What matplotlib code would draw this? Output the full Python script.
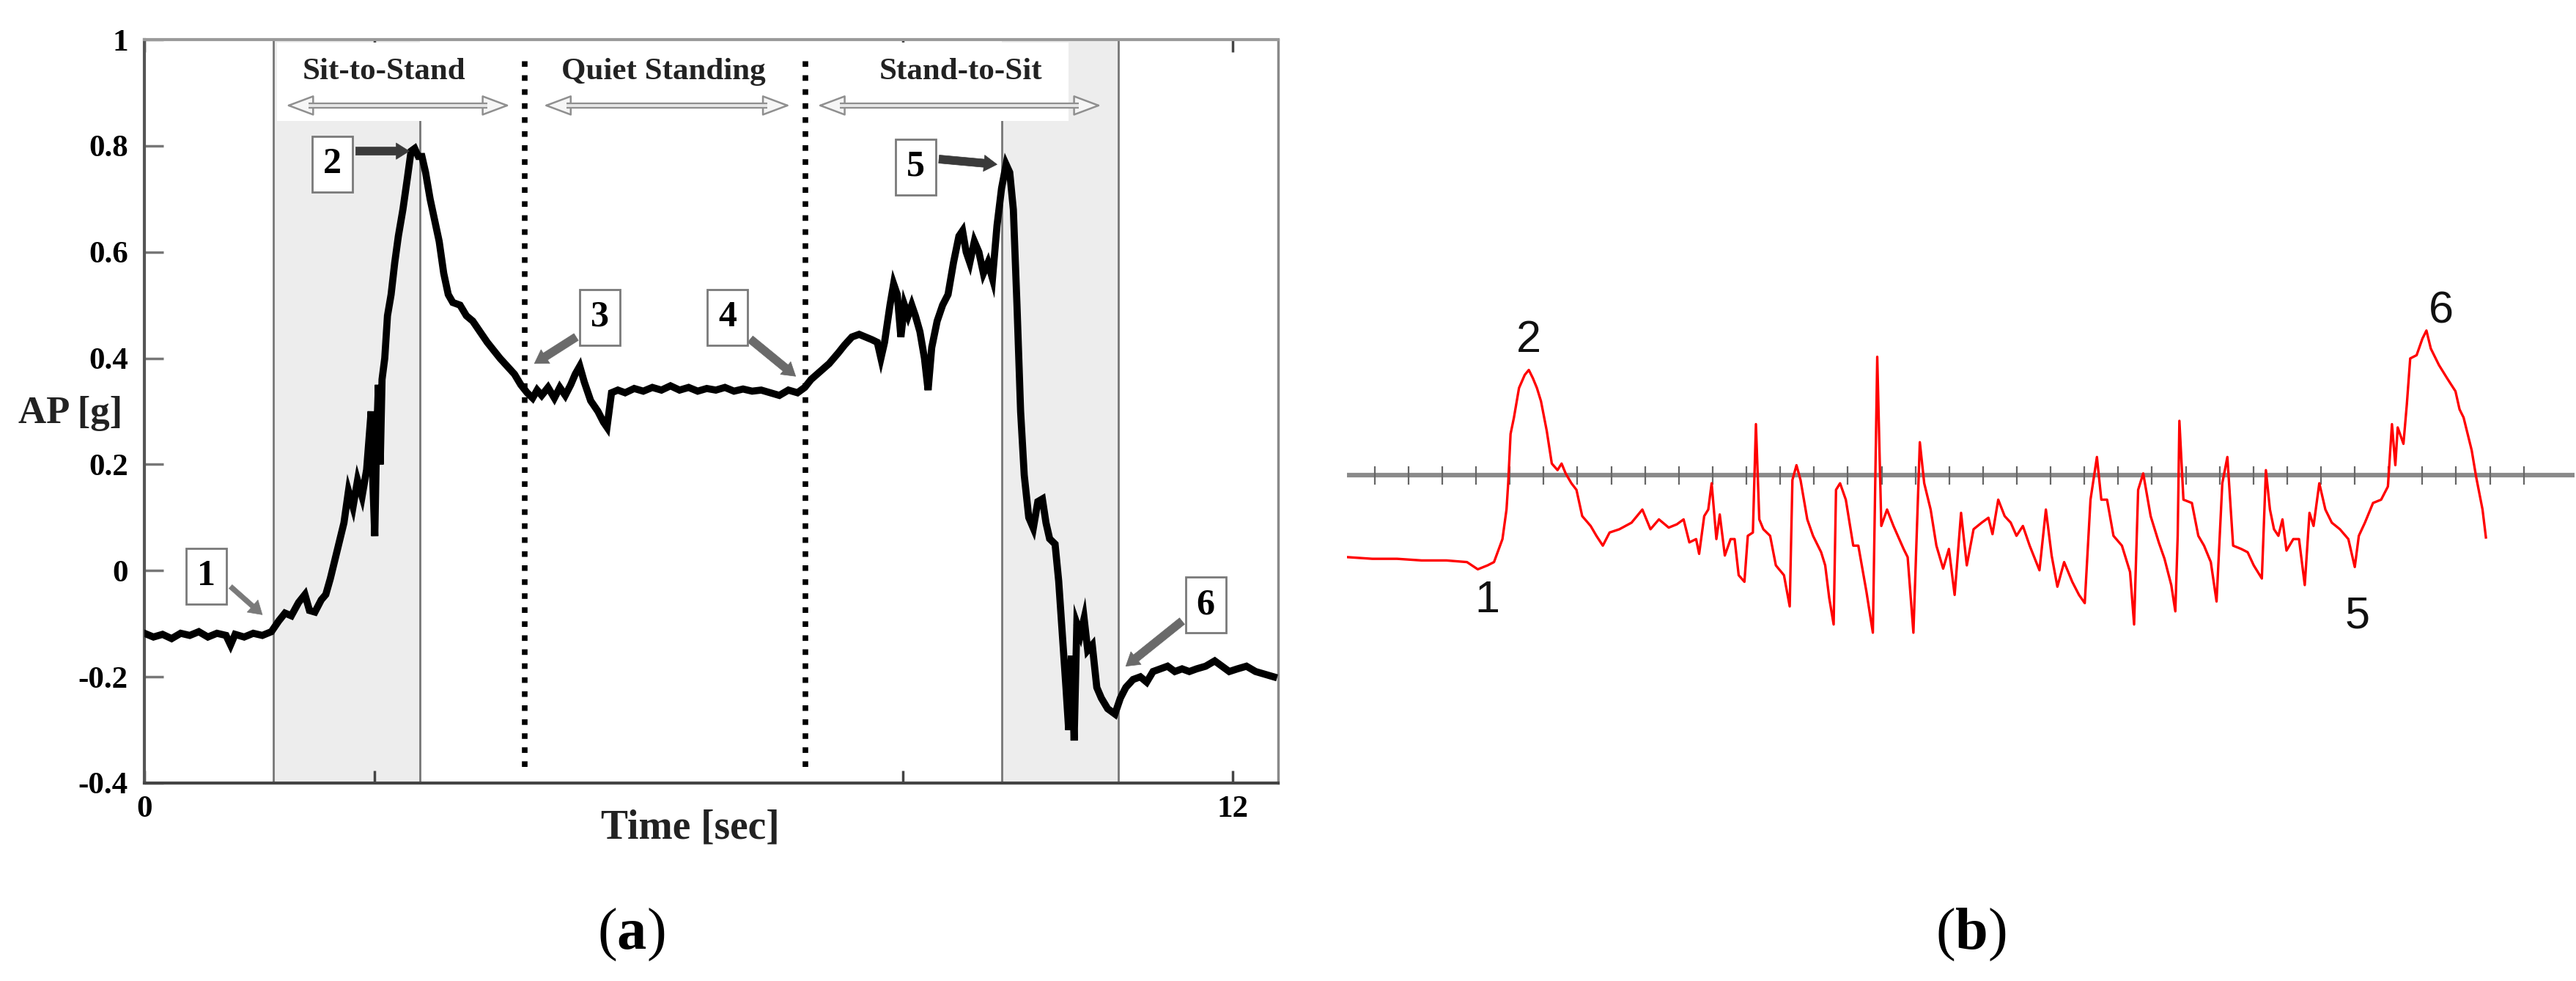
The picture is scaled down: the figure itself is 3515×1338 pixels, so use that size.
import matplotlib.pyplot as plt
from matplotlib.patches import Rectangle, FancyArrowPatch

plt.rcParams['mathtext.fontset'] = 'custom'
plt.rcParams['mathtext.rm'] = 'Liberation Serif'
plt.rcParams['mathtext.bf'] = 'Liberation Serif:bold'
SERIF = 'Liberation Serif'

# ---- panel (a): AP acceleration during sit-stand-sit ----
a_time = [0.00, 0.10, 0.20, 0.30, 0.40, 0.50, 0.60, 0.70, 0.80, 0.90, 0.95, 1.00, 1.10, 1.20, 1.30,
          1.40, 1.48, 1.55, 1.62, 1.70, 1.77, 1.82, 1.88, 1.95, 2.00, 2.05, 2.10, 2.15, 2.20, 2.25,
          2.30, 2.35, 2.40, 2.45, 2.50, 2.52, 2.54, 2.56, 2.58, 2.60, 2.62, 2.65, 2.68, 2.72, 2.76,
          2.80, 2.85, 2.90, 2.94, 2.98, 3.02, 3.06, 3.10, 3.15, 3.20, 3.25, 3.30, 3.35, 3.40, 3.48,
          3.55, 3.62, 3.70, 3.78, 3.85, 3.92, 4.00, 4.08, 4.15, 4.22, 4.28, 4.33, 4.38, 4.45, 4.52,
          4.58, 4.64, 4.70, 4.75, 4.80, 4.85, 4.92, 5.00, 5.06, 5.10, 5.15, 5.22, 5.30, 5.40, 5.50,
          5.60, 5.70, 5.80, 5.90, 6.00, 6.10, 6.20, 6.30, 6.40, 6.50, 6.60, 6.70, 6.80, 6.90, 7.00,
          7.10, 7.20, 7.28, 7.35, 7.45, 7.55, 7.65, 7.72, 7.80, 7.88, 7.95, 8.02, 8.08, 8.12, 8.16,
          8.22, 8.26, 8.30, 8.34, 8.38, 8.42, 8.46, 8.50, 8.55, 8.60, 8.64, 8.68, 8.74, 8.80, 8.86,
          8.92, 8.98, 9.02, 9.06, 9.10, 9.15, 9.20, 9.25, 9.30, 9.35, 9.40, 9.45, 9.50, 9.54, 9.58,
          9.62, 9.66, 9.70, 9.75, 9.80, 9.85, 9.90, 9.94, 9.98, 10.04, 10.08, 10.12, 10.16, 10.19, 10.22,
          10.25, 10.28, 10.32, 10.36, 10.40, 10.45, 10.50, 10.55, 10.62, 10.70, 10.76, 10.82, 10.90, 10.98, 11.05,
          11.12, 11.20, 11.28, 11.36, 11.44, 11.52, 11.60, 11.70, 11.80, 11.88, 11.96, 12.05, 12.15, 12.25, 12.35,
          12.45]
a_ap = [-0.118, -0.125, -0.120, -0.128, -0.118, -0.122, -0.115, -0.125, -0.118, -0.122, -0.140, -0.120, -0.125, -0.118, -0.122,
        -0.115, -0.095, -0.080, -0.085, -0.060, -0.045, -0.075, -0.078, -0.055, -0.045, -0.015, 0.020, 0.055, 0.090, 0.150,
        0.120, 0.170, 0.140, 0.190, 0.300, 0.160, 0.065, 0.250, 0.350, 0.200, 0.360, 0.400, 0.480, 0.520, 0.580,
        0.630, 0.680, 0.740, 0.790, 0.795, 0.780, 0.780, 0.750, 0.700, 0.660, 0.620, 0.560, 0.520, 0.505, 0.500,
        0.480, 0.470, 0.450, 0.430, 0.415, 0.400, 0.385, 0.370, 0.350, 0.335, 0.325, 0.340, 0.330, 0.345, 0.325,
        0.345, 0.330, 0.350, 0.370, 0.385, 0.355, 0.320, 0.300, 0.280, 0.270, 0.335, 0.340, 0.335, 0.343, 0.338,
        0.345, 0.340, 0.348, 0.340, 0.345, 0.338, 0.343, 0.340, 0.345, 0.338, 0.342, 0.338, 0.340, 0.335, 0.330,
        0.340, 0.335, 0.345, 0.360, 0.375, 0.390, 0.410, 0.425, 0.440, 0.445, 0.440, 0.435, 0.430, 0.400, 0.430,
        0.500, 0.540, 0.520, 0.440, 0.500, 0.480, 0.500, 0.480, 0.450, 0.400, 0.340, 0.420, 0.470, 0.500, 0.520,
        0.580, 0.630, 0.640, 0.600, 0.580, 0.620, 0.600, 0.560, 0.580, 0.550, 0.650, 0.720, 0.765, 0.750, 0.680,
        0.500, 0.300, 0.180, 0.100, 0.080, 0.130, 0.135, 0.090, 0.060, 0.050, -0.020, -0.120, -0.220, -0.300, -0.160,
        -0.320, -0.100, -0.120, -0.090, -0.150, -0.140, -0.220, -0.240, -0.260, -0.270, -0.240, -0.220, -0.205, -0.200, -0.210,
        -0.190, -0.185, -0.180, -0.190, -0.185, -0.190, -0.185, -0.180, -0.170, -0.180, -0.190, -0.185, -0.180, -0.190, -0.195,
        -0.200]

phase_names = ['Sit-to-Stand', 'Quiet Standing', 'Stand-to-Sit']
phase_text_x = [2.64, 5.72, 9.00]
phase_arrow_span = [(1.54, 4.05), (4.38, 7.14), (7.40, 10.57)]
shaded_spans = [(1.42, 3.04), (9.45, 10.74)]
dotted_x = [4.19, 7.29]

event_ids = ['1', '2', '3', '4', '5', '6']
event_box = [(0.68, -0.01), (2.07, 0.765), (5.02, 0.477), (6.43, 0.477), (8.50, 0.760), (11.70, -0.065)]
event_tail = [(0.95, -0.03), (2.33, 0.790), (4.76, 0.440), (6.68, 0.436), (8.76, 0.775), (11.44, -0.095)]
event_tip = [(1.30, -0.083), (2.92, 0.790), (4.30, 0.390), (7.18, 0.366), (9.40, 0.765), (10.82, -0.180)]
event_color = ['#7a7a7a', '#3a3a3a', '#6a6a6a', '#6a6a6a', '#3a3a3a', '#6a6a6a']

y_ticks = [-0.4, -0.2, 0, 0.2, 0.4, 0.6, 0.8, 1.0]
y_ticklabels = ['-0.4', '-0.2', '0', '0.2', '0.4', '0.6', '0.8', '1']
x_ticks = [0, 2.54, 8.36, 12]
x_ticklabels = ['0', '', '', '12']

# ---- panel (b): red trace over a ticked baseline ----
b_x = [-0.80, -0.07, 0.66, 1.39, 2.12, 2.73, 3.05, 3.34, 3.53, 3.78, 3.90, 3.95, 4.02, 4.12, 4.27,
       4.44, 4.56, 4.68, 4.80, 4.92, 5.09, 5.24, 5.41, 5.53, 5.65, 5.82, 5.97, 6.14, 6.39, 6.56,
       6.75, 6.95, 7.24, 7.60, 7.92, 8.16, 8.41, 8.70, 8.94, 9.14, 9.31, 9.51, 9.60, 9.75, 9.87,
       9.97, 10.11, 10.21, 10.36, 10.53, 10.65, 10.77, 10.94, 11.04, 11.19, 11.28, 11.38, 11.50, 11.70, 11.87,
       12.11, 12.28, 12.36, 12.48, 12.60, 12.80, 12.97, 13.21, 13.33, 13.45, 13.58, 13.65, 13.77, 13.94, 14.16,
       14.31, 14.55, 14.74, 14.87, 14.99, 15.16, 15.35, 15.65, 15.77, 15.94, 16.13, 16.26, 16.45, 16.62, 16.82,
       16.99, 17.16, 17.35, 17.52, 17.72, 17.96, 18.16, 18.28, 18.45, 18.64, 18.82, 18.99, 19.18, 19.38, 19.67,
       19.86, 20.03, 20.20, 20.40, 20.64, 20.84, 21.01, 21.18, 21.37, 21.50, 21.67, 21.86, 22.11, 22.35, 22.47,
       22.59, 22.74, 22.96, 23.20, 23.37, 23.57, 23.69, 23.76, 23.81, 23.93, 24.18, 24.37, 24.54, 24.74, 24.91,
       25.08, 25.23, 25.40, 25.64, 25.83, 26.01, 26.25, 26.37, 26.49, 26.61, 26.74, 26.86, 26.98, 27.18, 27.35,
       27.52, 27.66, 27.78, 27.95, 28.13, 28.32, 28.56, 28.81, 29.00, 29.12, 29.30, 29.54, 29.78, 29.98, 30.10,
       30.20, 30.27, 30.44, 30.54, 30.64, 30.83, 31.00, 31.12, 31.25, 31.49, 31.73, 31.98, 32.10, 32.22, 32.34,
       32.46, 32.59, 32.78, 32.88]
b_y = [-2.50, -2.55, -2.55, -2.60, -2.60, -2.65, -2.87, -2.75, -2.65, -1.95, -1.05, -0.25, 1.25, 1.75, 2.65,
       3.05, 3.20, 2.95, 2.65, 2.25, 1.35, 0.35, 0.15, 0.35, 0.05, -0.25, -0.45, -1.25, -1.55, -1.85,
       -2.15, -1.75, -1.65, -1.45, -1.05, -1.65, -1.35, -1.60, -1.50, -1.35, -2.05, -1.95, -2.40, -1.25, -1.05,
       -0.25, -1.95, -1.20, -2.45, -1.95, -1.95, -3.05, -3.25, -1.85, -1.75, 1.55, -1.35, -1.65, -1.85, -2.75,
       -3.05, -4.00, -0.15, 0.30, -0.15, -1.35, -1.85, -2.35, -2.75, -3.75, -4.55, -0.45, -0.25, -0.75, -2.15,
       -2.15, -3.55, -4.80, 3.60, -1.55, -1.05, -1.55, -2.25, -2.50, -4.80, 1.00, -0.25, -1.05, -2.15, -2.85,
       -2.25, -3.65, -1.15, -2.75, -1.65, -1.45, -1.30, -1.80, -0.75, -1.25, -1.45, -1.85, -1.55, -2.15, -2.90,
       -1.05, -2.45, -3.40, -2.65, -3.25, -3.65, -3.90, -0.75, 0.55, -0.75, -0.75, -1.85, -2.15, -2.95, -4.55,
       -0.45, 0.05, -1.25, -2.05, -2.55, -3.35, -4.15, -1.85, 1.65, -0.75, -0.85, -1.85, -2.15, -2.65, -3.85,
       -0.25, 0.55, -2.15, -2.25, -2.35, -2.75, -3.15, 0.15, -1.05, -1.65, -1.85, -1.35, -2.30, -1.95, -1.95,
       -3.35, -1.15, -1.55, -0.25, -1.05, -1.45, -1.65, -1.95, -2.80, -1.85, -1.45, -0.85, -0.75, -0.35, 1.55,
       0.30, 1.45, 0.95, 2.15, 3.55, 3.65, 4.15, 4.40, 3.85, 3.35, 2.95, 2.55, 2.00, 1.75, 1.25,
       0.75, -0.05, -1.05, -1.90]
b_labels = ['1', '2', '5', '6']
b_label_pos = [(3.34, -3.82), (4.56, 4.10), (29.08, -4.30), (31.56, 4.98)]
n_baseline_ticks = 35

fig = plt.figure(figsize=(35.15, 13.38), dpi=100)

# ===== panel (a) =====
ax = fig.add_axes([0.05605, 0.2018, 0.44015, 0.7578])
ax.set_xlim(0, 12.5)
ax.set_ylim(-0.4, 1.0)

for x0, x1 in shaded_spans:
    ax.axvspan(x0, x1, color='#ededed', zorder=0, lw=0)
# outer edges full height, inner edges start below the label band
ax.axvline(shaded_spans[0][0], color='#777777', lw=2, zorder=1)
ax.axvline(shaded_spans[1][1], color='#777777', lw=2, zorder=1)
ax.plot([shaded_spans[0][1]] * 2, [-0.4, 0.85], color='#777777', lw=2, zorder=1)
ax.plot([shaded_spans[1][0]] * 2, [-0.4, 0.85], color='#777777', lw=2, zorder=1)

# white band holding the phase names
ax.add_patch(Rectangle((1.46, 0.847), 10.19 - 1.46, 0.995 - 0.847, facecolor='white',
                       edgecolor='none', zorder=2))

for xd in dotted_x:
    ax.plot([xd, xd], [-0.37, 0.965], color='black', lw=5.5, linestyle=(0, (1, 1.5)),
            dash_capstyle='butt', zorder=3)

ax.plot(a_time, a_ap, color='black', lw=7, zorder=4, solid_joinstyle='miter')

for name, tx, (x0, x1) in zip(phase_names, phase_text_x, phase_arrow_span):
    ax.text(tx, 0.939, name, ha='center', va='center', fontsize=31, fontweight='bold',
            family=SERIF, color='#222222', zorder=6)
    hl = 0.27
    arr = FancyArrowPatch((x0, 0.876), (x1, 0.876),
                          arrowstyle='<|-|>,head_length=1.2,head_width=0.45',
                          mutation_scale=20, fc='#f6f6f6', ec='#8f8f8f', lw=1.8, zorder=5)
    ax.add_patch(arr)
    ax.plot([x0 + hl, x1 - hl], [0.876, 0.876], color='#8f8f8f', lw=6, solid_capstyle='butt', zorder=6)
    ax.plot([x0 + hl, x1 - hl], [0.876, 0.876], color='#e6e6e6', lw=2.8, solid_capstyle='butt', zorder=7)

for eid, bxy, tail, tip, col in zip(event_ids, event_box, event_tail, event_tip, event_color):
    tw = 0.3 if eid == '1' else 0.5
    ax.annotate('', xy=tip, xytext=tail,
                arrowprops=dict(arrowstyle=f'simple,head_length=0.8,head_width=1.0,tail_width={tw}',
                                color=col, lw=0.5, shrinkA=0, shrinkB=0, mutation_scale=16),
                zorder=8)
    ax.text(bxy[0], bxy[1], eid, ha='center', va='center', fontsize=36, fontweight='bold',
            family=SERIF, zorder=9,
            bbox=dict(boxstyle='square,pad=0.3', fc='white', ec='#7a7a7a', lw=2))

ax.set_yticks(y_ticks)
ax.set_yticklabels(y_ticklabels, fontsize=31, fontweight='bold', family=SERIF)
ax.set_xticks(x_ticks)
ax.set_xticklabels(x_ticklabels, fontsize=31, fontweight='bold', family=SERIF)
ax.tick_params(axis='y', direction='in', length=19, width=2.5, color='#777777', pad=16)
ax.tick_params(axis='x', direction='in', length=12, width=2.5, color='#444444', pad=12, top=True)

ax.spines['left'].set_color('#555555')
ax.spines['bottom'].set_color('#444444')
ax.spines['top'].set_color('#9a9a9a')
ax.spines['right'].set_color('#8a8a8a')
for s in ['left', 'bottom', 'top']:
    ax.spines[s].set_linewidth(3)
ax.spines['right'].set_linewidth(2.5)

fig.text(0.0273, 0.5785, 'AP [g]', ha='center', va='center', fontsize=38, fontweight='bold',
         family=SERIF, color='#222222')
fig.text(0.268, 0.1555, 'Time [sec]', ha='center', va='center', fontsize=40, fontweight='bold',
         family=SERIF, color='#222222')

# ===== panel (b) =====
ax2 = fig.add_axes([0.5229, 0.2526, 0.4765, 0.4858])
ax2.set_xlim(-0.82, 35.5)
ax2.set_ylim(-7.86, 6.65)
ax2.axis('off')
ax2.axhline(0, color='#8a8a8a', lw=4.5, zorder=1)
ax2.vlines(range(n_baseline_ticks), -0.30, 0.27, color='#666666', lw=1.6, zorder=2)
ax2.plot(b_x, b_y, color='#ff0000', lw=2.4, zorder=3)
for lab, (lx, ly) in zip(b_labels, b_label_pos):
    ax2.text(lx, ly, lab, ha='center', va='center', fontsize=44, family='Liberation Sans',
             color='#111111')

fig.text(0.245, 0.0471, r'($\mathbf{a}$)', ha='center', va='center', fontsize=58, family=SERIF)
fig.text(0.765, 0.0471, r'($\mathbf{b}$)', ha='center', va='center', fontsize=58, family=SERIF)

fig.savefig('out.png', dpi=100)
